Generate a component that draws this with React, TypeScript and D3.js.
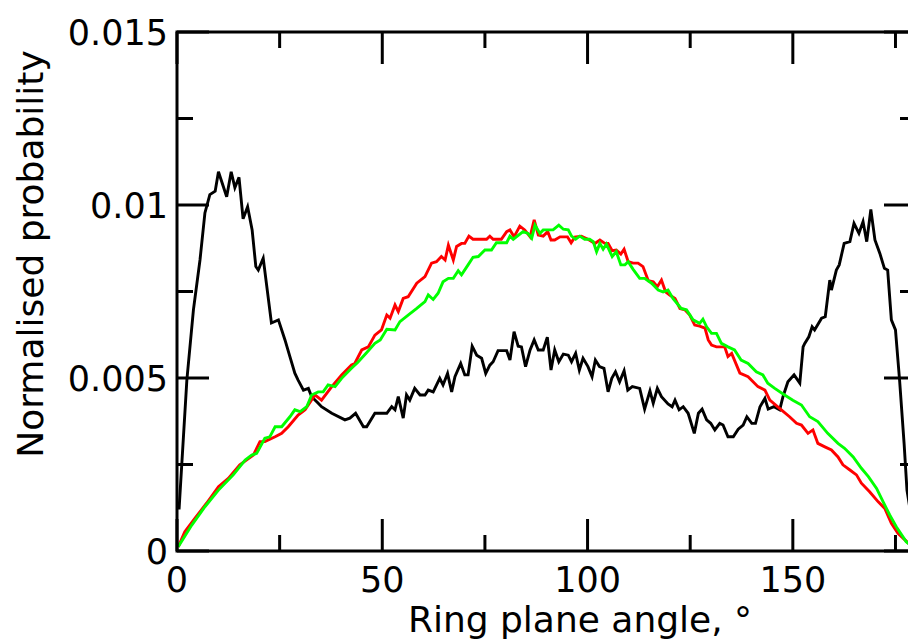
import React from "react";
import * as d3 from "d3";

// Angle (degrees) / normalised probability readings per series
const blackAngle = [0.5,2.4,4.0,5.6,6.8,8.0,9.3,10.1,12.1,13.2,14.1,15.1,16.1,17.2,18.3,19.2,19.8,21.0,23.0,24.7,26.3,27.5,28.7,29.5,30.8,32.0,32.8,34.4,35.2,37.7,40.9,42.1,43.5,45.4,46.2,48.2,51.1,52.3,53.1,53.9,55.1,55.9,56.7,57.9,59.2,60.4,61.2,62.4,64.0,64.8,65.9,66.9,67.7,69.1,70.1,70.9,71.9,73.0,74.2,75.2,76.2,77.0,78.2,80.3,81.1,82.1,83.1,83.9,84.9,86.0,87.0,88.0,89.2,90.2,91.1,92.0,93.0,94.1,95.3,96.1,97.1,98.0,98.9,100.1,101.1,101.9,102.9,104.0,105.0,105.9,106.8,107.8,108.9,109.8,110.9,112.7,113.9,115.2,116.0,117.0,118.0,119.6,120.6,121.3,122.3,123.3,124.5,126.0,127.0,127.9,129.0,130.0,131.0,132.2,133.0,134.2,135.5,136.7,137.9,138.8,140.0,140.9,142.0,143.2,144.0,145.4,146.8,147.6,148.8,150.3,151.7,152.5,152.9,153.9,154.7,155.3,157.0,157.9,159.0,159.4,160.6,161.3,162.5,163.9,164.9,166.1,167.1,168.0,169.0,170.0,171.2,172.3,173.1,174.0,175.0,176.0,177.1,177.8,179.5];
const blackValue = [0.00120,0.00494,0.00697,0.00841,0.00977,0.01030,0.01040,0.01096,0.01024,0.01096,0.01050,0.01080,0.00960,0.00995,0.00928,0.00822,0.00812,0.00846,0.00659,0.00668,0.00610,0.00562,0.00514,0.00494,0.00465,0.00470,0.00446,0.00427,0.00417,0.00398,0.00379,0.00384,0.00398,0.00359,0.00359,0.00398,0.00398,0.00417,0.00408,0.00446,0.00384,0.00451,0.00436,0.00470,0.00451,0.00451,0.00465,0.00460,0.00499,0.00480,0.00513,0.00460,0.00504,0.00542,0.00509,0.00509,0.00592,0.00566,0.00557,0.00513,0.00537,0.00547,0.00579,0.00579,0.00552,0.00634,0.00592,0.00590,0.00533,0.00581,0.00610,0.00581,0.00581,0.00618,0.00523,0.00581,0.00547,0.00569,0.00566,0.00547,0.00571,0.00523,0.00557,0.00533,0.00504,0.00552,0.00533,0.00528,0.00460,0.00499,0.00518,0.00489,0.00521,0.00465,0.00475,0.00470,0.00410,0.00463,0.00427,0.00470,0.00446,0.00425,0.00417,0.00436,0.00408,0.00417,0.00398,0.00340,0.00398,0.00410,0.00379,0.00369,0.00350,0.00369,0.00364,0.00330,0.00330,0.00352,0.00364,0.00388,0.00369,0.00369,0.00417,0.00441,0.00410,0.00417,0.00408,0.00446,0.00489,0.00509,0.00485,0.00590,0.00600,0.00619,0.00648,0.00639,0.00673,0.00677,0.00783,0.00754,0.00812,0.00827,0.00889,0.00894,0.00947,0.00918,0.00952,0.00894,0.00987,0.00899,0.00860,0.00817,0.00812,0.00668,0.00639,0.00494,0.00311,0.00176,0.00050];

const redAngle = [0.3,1.9,4.4,7.2,10.1,12.5,15.3,18.6,20.2,21.4,23.9,25.5,27.1,29.5,31.2,33.6,35.2,37.7,40.1,42.5,43.3,45.0,46.6,48.2,49.8,51.1,51.9,53.1,53.9,55.1,56.3,58.4,60.4,62.0,63.2,64.4,65.3,66.1,67.3,68.1,69.3,70.1,71.1,72.1,75.4,76.2,77.0,79.0,80.3,81.1,82.1,83.5,84.7,86.0,87.0,88.0,89.2,90.3,91.1,92.0,93.3,95.1,96.0,96.9,98.5,100.1,101.8,103.0,104.2,105.0,106.0,107.0,108.1,108.9,109.9,111.1,112.3,113.5,114.8,116.0,117.0,118.0,119.0,120.0,121.3,122.5,123.7,124.9,126.1,127.3,128.6,129.4,130.2,131.4,133.4,134.2,135.1,137.1,139.1,141.5,143.2,144.4,147.2,149.2,150.9,152.1,153.7,154.9,156.1,157.8,159.4,161.0,162.2,163.9,165.5,166.7,168.7,170.8,172.4,174.0,175.6,177.3,179.5];
const redValue = [0.00012,0.00056,0.00095,0.00138,0.00186,0.00210,0.00249,0.00277,0.00316,0.00316,0.00330,0.00340,0.00359,0.00393,0.00408,0.00451,0.00436,0.00475,0.00509,0.00538,0.00542,0.00581,0.00590,0.00624,0.00639,0.00682,0.00673,0.00711,0.00692,0.00730,0.00735,0.00774,0.00793,0.00832,0.00836,0.00851,0.00841,0.00884,0.00841,0.00880,0.00889,0.00889,0.00910,0.00901,0.00901,0.00910,0.00901,0.00901,0.00923,0.00928,0.00908,0.00939,0.00928,0.00908,0.00957,0.00913,0.00910,0.00923,0.00899,0.00899,0.00908,0.00908,0.00891,0.00907,0.00910,0.00901,0.00889,0.00899,0.00889,0.00889,0.00868,0.00870,0.00858,0.00872,0.00836,0.00832,0.00832,0.00822,0.00781,0.00778,0.00764,0.00783,0.00749,0.00740,0.00730,0.00701,0.00697,0.00682,0.00653,0.00650,0.00644,0.00610,0.00595,0.00590,0.00590,0.00562,0.00571,0.00514,0.00504,0.00475,0.00465,0.00436,0.00408,0.00388,0.00369,0.00364,0.00340,0.00350,0.00311,0.00301,0.00292,0.00272,0.00249,0.00234,0.00220,0.00196,0.00171,0.00142,0.00123,0.00080,0.00051,0.00032,0.00008];

const greenAngle = [0.3,3.6,6.8,10.1,13.7,16.6,18.2,19.4,21.4,22.6,23.9,25.5,27.5,28.7,30.0,31.6,32.8,34.4,35.6,36.8,38.5,40.1,42.5,44.0,46.0,48.2,49.5,51.1,53.1,54.3,56.3,58.4,60.4,61.2,62.4,63.6,64.8,66.1,67.3,68.5,69.3,70.9,72.1,73.4,75.0,76.6,77.8,80.3,81.1,81.9,84.3,85.5,86.4,87.2,88.4,89.2,91.6,93.0,94.1,95.3,96.1,97.1,98.1,99.3,100.5,101.4,102.2,103.0,103.8,104.6,106.0,107.0,108.1,109.1,109.9,111.1,112.7,113.9,115.6,117.2,118.4,119.6,120.8,122.8,124.1,125.7,127.3,128.1,129.0,130.2,131.4,132.6,134.2,135.8,137.4,139.1,141.1,142.7,143.9,145.6,148.0,150.0,152.1,154.1,156.1,158.5,161.0,162.6,164.7,166.7,168.4,170.4,172.0,173.6,175.2,177.6,179.5];
const greenValue = [0.00012,0.00075,0.00128,0.00176,0.00220,0.00263,0.00277,0.00282,0.00326,0.00330,0.00359,0.00359,0.00388,0.00408,0.00403,0.00417,0.00451,0.00460,0.00460,0.00480,0.00475,0.00499,0.00528,0.00545,0.00571,0.00600,0.00610,0.00641,0.00639,0.00663,0.00682,0.00701,0.00721,0.00740,0.00727,0.00745,0.00778,0.00788,0.00788,0.00810,0.00798,0.00827,0.00849,0.00851,0.00870,0.00870,0.00891,0.00891,0.00910,0.00901,0.00923,0.00918,0.00904,0.00942,0.00918,0.00928,0.00928,0.00942,0.00930,0.00928,0.00910,0.00901,0.00910,0.00901,0.00901,0.00894,0.00865,0.00889,0.00872,0.00887,0.00851,0.00865,0.00827,0.00827,0.00836,0.00814,0.00788,0.00788,0.00774,0.00754,0.00749,0.00754,0.00730,0.00701,0.00697,0.00668,0.00658,0.00670,0.00648,0.00629,0.00629,0.00600,0.00590,0.00581,0.00552,0.00542,0.00518,0.00509,0.00485,0.00470,0.00451,0.00436,0.00422,0.00388,0.00374,0.00340,0.00311,0.00297,0.00272,0.00239,0.00215,0.00181,0.00142,0.00104,0.00070,0.00027,0.00008];

const xMajorTicks = [0, 50, 100, 150];
const xMinorTicks = [25, 75, 125, 175];
const yMajorTicks = [0, 0.005, 0.01, 0.015];
const yMinorTicks = [0.0025, 0.0075, 0.0125];
const yTickLabels = ["0", "0.005", "0.01", "0.015"];
const xTitle = "Ring plane angle, °";
const yTitle = "Normalised probability";

const W = 908, H = 639;
const L = 177, R = 916, T = 32, B = 551;
const MAJ = 32, MIN = 16;
const FONT = "DejaVu Sans, sans-serif";

export default function App() {
  const x = d3.scaleLinear().domain([0, 180]).range([L, R]);
  const y = d3.scaleLinear().domain([0, 0.015]).range([B, T]);
  const mk = (a: number[], v: number[]) =>
    d3.line<number>().x((_, i) => x(a[i])).y((d) => y(d))(v) || "";

  const series = [
    { a: blackAngle, v: blackValue, c: "#000000" },
    { a: redAngle, v: redValue, c: "#ff0000" },
    { a: greenAngle, v: greenValue, c: "#00ff00" },
  ];

  return (
    <svg width={W} height={H} style={{ position: "absolute", left: 0, top: 0, background: "#fff" }}>
      <defs>
        <clipPath id="plot">
          <rect x={L} y={T} width={R - L} height={B - T} />
        </clipPath>
      </defs>
      <rect x={0} y={0} width={W} height={H} fill="#fff" />
      <g clipPath="url(#plot)">
        {series.map((s, i) => (
          <path key={i} d={mk(s.a, s.v)} fill="none" stroke={s.c} strokeWidth={2.9} strokeLinejoin="miter" />
        ))}
      </g>
      <g stroke="#000" strokeWidth={3}>
        {xMajorTicks.map((t) => (
          <g key={"xM" + t}>
            <line x1={x(t)} x2={x(t)} y1={B} y2={B - MAJ} />
            <line x1={x(t)} x2={x(t)} y1={T} y2={T + MAJ} />
          </g>
        ))}
        {xMinorTicks.map((t) => (
          <g key={"xm" + t}>
            <line x1={x(t)} x2={x(t)} y1={B} y2={B - MIN} />
            <line x1={x(t)} x2={x(t)} y1={T} y2={T + MIN} />
          </g>
        ))}
        {yMajorTicks.map((t) => (
          <g key={"yM" + t}>
            <line x1={L} x2={L + MAJ} y1={y(t)} y2={y(t)} />
            <line x1={R} x2={R - MAJ} y1={y(t)} y2={y(t)} />
          </g>
        ))}
        {yMinorTicks.map((t) => (
          <g key={"ym" + t}>
            <line x1={L} x2={L + MIN} y1={y(t)} y2={y(t)} />
            <line x1={R} x2={R - MIN} y1={y(t)} y2={y(t)} />
          </g>
        ))}
        <rect x={L} y={T} width={R - L} height={B - T} fill="none" />
      </g>
      <g fontFamily={FONT} fontSize={35} fill="#000">
        {xMajorTicks.map((t) => (
          <text key={"xl" + t} x={x(t)} y={592} textAnchor="middle">{String(t)}</text>
        ))}
        {yMajorTicks.map((t, i) => (
          <text key={"yl" + t} x={168} y={y(t)} dy="0.36em" textAnchor="end">{yTickLabels[i]}</text>
        ))}
      </g>
      <text x={580} y={632} textAnchor="middle" fontFamily={FONT} fontSize={36}>{xTitle}</text>
      <text transform={`translate(43,254) rotate(-90)`} textAnchor="middle" fontFamily={FONT} fontSize={36}>{yTitle}</text>
    </svg>
  );
}
